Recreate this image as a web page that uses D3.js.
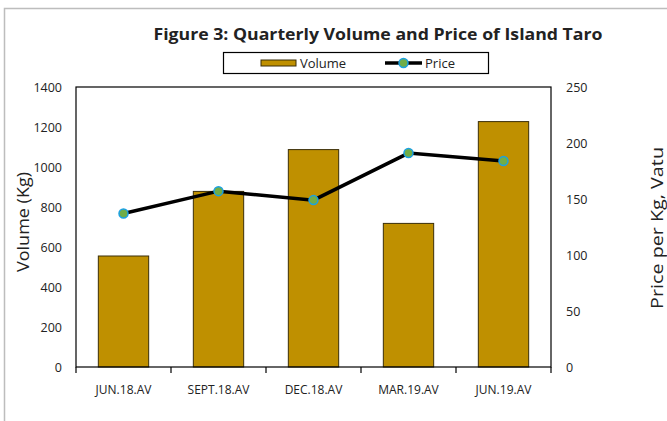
<!DOCTYPE html>
<html>
<head>
<meta charset="utf-8">
<script src="https://cdn.jsdelivr.net/npm/d3@7"></script>
<style>
  body { margin: 0; background: #fff; }
  text { font-family: "Open Sans", "Noto Sans", sans-serif; fill: #222; }
</style>
</head>
<body>
<svg class="chart" width="667" height="421"></svg>
<script>
//------------------------------------------------------------------------------
//Data
//------------------------------------------------------------------------------
var quarters = ["JUN.18.AV", "SEPT.18.AV", "DEC.18.AV", "MAR.19.AV", "JUN.19.AV"];
var volume = [555, 878, 1087, 718, 1227];
var price = [137, 157, 149, 191, 184];
var volumeTicks = [0, 200, 400, 600, 800, 1000, 1200, 1400];
var priceTicks = [0, 50, 100, 150, 200, 250];

//------------------------------------------------------------------------------
//Chart
//------------------------------------------------------------------------------
function drawChart() {
  var svg = d3.select(".chart");
  var margin = { top: 87, left: 76, right: 116, bottom: 54 };
  var width = 667 - margin.left - margin.right;
  var height = 421 - margin.top - margin.bottom;

  // outer frame (runs past the right and bottom edges)
  svg.append("rect")
    .attr("x", 4.5).attr("y", 8.5)
    .attr("width", 700).attr("height", 500)
    .attr("fill", "none")
    .attr("stroke", "#bdbdbd")
    .attr("stroke-width", 1.5);

  var x = d3.scaleBand().domain(quarters).range([0, width]).paddingInner(0.47).paddingOuter(0.235);
  var xEdges = d3.scaleLinear().domain([0, quarters.length]).range([0, width]);
  var yLeft = d3.scaleLinear().domain([0, 1400]).range([height, 0]);
  var yRight = d3.scaleLinear().domain([0, 250]).range([height, 0]);

  var g = svg.append("g").attr("transform", "translate(" + margin.left + "," + margin.top + ")");

  // bars
  g.selectAll("rect.bar")
    .data(volume)
    .enter()
    .append("rect")
    .attr("class", "bar")
    .attr("x", function (d, i) { return x(quarters[i]); })
    .attr("y", function (d) { return yLeft(d); })
    .attr("width", x.bandwidth())
    .attr("height", function (d) { return height - yLeft(d); })
    .attr("fill", "#BF9000")
    .attr("stroke", "#3a2e08")
    .attr("stroke-width", 1);

  // plot frame
  g.append("rect")
    .attr("x", 0).attr("y", 0)
    .attr("width", width).attr("height", height)
    .attr("fill", "none")
    .attr("stroke", "#000")
    .attr("stroke-width", 1.2);

  // left axis
  var leftAxis = g.append("g")
    .call(d3.axisLeft(yLeft).tickValues(volumeTicks).tickFormat(d3.format("d")).tickSize(0).tickPadding(14));
  leftAxis.select(".domain").remove();
  leftAxis.selectAll("text").style("font-size", "12.5px");

  // right axis
  var rightAxis = g.append("g")
    .attr("transform", "translate(" + width + ",0)")
    .call(d3.axisRight(yRight).tickValues(priceTicks).tickFormat(d3.format("d")).tickSize(0).tickPadding(15));
  rightAxis.select(".domain").remove();
  rightAxis.selectAll("text").style("font-size", "12.5px");

  // bottom axis ticks at category edges
  g.selectAll("line.xtick")
    .data(d3.range(quarters.length + 1))
    .enter()
    .append("line")
    .attr("class", "xtick")
    .attr("x1", function (d) { return xEdges(d); })
    .attr("x2", function (d) { return xEdges(d); })
    .attr("y1", height)
    .attr("y2", height + 6)
    .attr("stroke", "#000")
    .attr("stroke-width", 1.2);

  var bottomAxis = g.append("g")
    .attr("transform", "translate(0," + height + ")")
    .call(d3.axisBottom(x).tickSize(0).tickPadding(18));
  bottomAxis.select(".domain").remove();
  bottomAxis.selectAll("text").style("font-size", "12px");

  // price line
  var line = d3.line()
    .x(function (d, i) { return x(quarters[i]) + x.bandwidth() / 2; })
    .y(function (d) { return yRight(d); });

  g.append("path")
    .datum(price)
    .attr("d", line)
    .attr("fill", "none")
    .attr("stroke", "#000")
    .attr("stroke-width", 3.5);

  g.selectAll("circle.pt")
    .data(price)
    .enter()
    .append("circle")
    .attr("class", "pt")
    .attr("cx", function (d, i) { return x(quarters[i]) + x.bandwidth() / 2; })
    .attr("cy", function (d) { return yRight(d); })
    .attr("r", 4.5)
    .attr("fill", "#70AD47")
    .attr("stroke", "#1BA1E2")
    .attr("stroke-width", 1.5);

  // axis titles
  svg.append("text")
    .attr("transform", "translate(29,222) rotate(-90)")
    .attr("text-anchor", "middle")
    .style("font-size", "16px")
    .attr("textLength", 100)
    .attr("lengthAdjust", "spacingAndGlyphs")
    .text("Volume (Kg)");

  svg.append("text")
    .attr("transform", "translate(663,228) rotate(-90)")
    .attr("text-anchor", "middle")
    .style("font-size", "16px")
    .attr("textLength", 162)
    .attr("lengthAdjust", "spacingAndGlyphs")
    .text("Price per Kg, Vatu");

  // title
  svg.append("text")
    .attr("x", 378).attr("y", 40)
    .attr("text-anchor", "middle")
    .style("font-size", "15.5px")
    .style("font-weight", "bold")
    .attr("textLength", 449)
    .attr("lengthAdjust", "spacingAndGlyphs")
    .text("Figure 3: Quarterly Volume and Price of Island Taro");

  // legend
  var lg = svg.append("g");
  lg.append("rect")
    .attr("x", 223.5).attr("y", 52.5)
    .attr("width", 265).attr("height", 21)
    .attr("fill", "#fff")
    .attr("stroke", "#000")
    .attr("stroke-width", 1.2);
  lg.append("rect")
    .attr("x", 261).attr("y", 60)
    .attr("width", 35).attr("height", 6)
    .attr("fill", "#BF9000")
    .attr("stroke", "#3a2e08")
    .attr("stroke-width", 1);
  lg.append("text")
    .attr("x", 300).attr("y", 67.5)
    .style("font-size", "13px")
    .text("Volume");
  lg.append("line")
    .attr("x1", 385).attr("x2", 422)
    .attr("y1", 63).attr("y2", 63)
    .attr("stroke", "#000")
    .attr("stroke-width", 3.5);
  lg.append("circle")
    .attr("cx", 403.5).attr("cy", 63)
    .attr("r", 4.5)
    .attr("fill", "#70AD47")
    .attr("stroke", "#1BA1E2")
    .attr("stroke-width", 1.5);
  lg.append("text")
    .attr("x", 425).attr("y", 67.5)
    .style("font-size", "13px")
    .text("Price");
}

drawChart();
</script>
</body>
</html>
